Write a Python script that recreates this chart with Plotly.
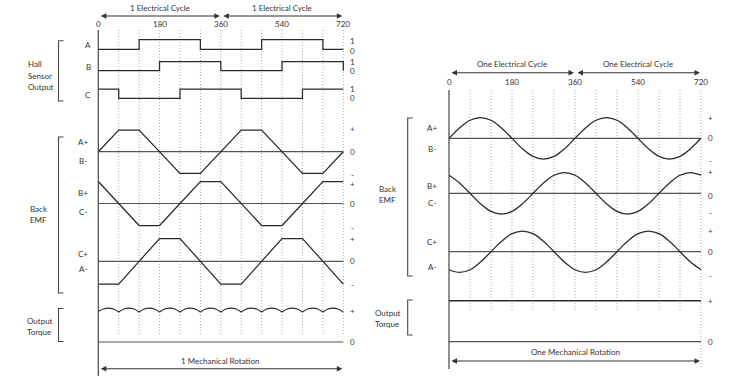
import plotly.graph_objects as go

W, H = 735, 392

# ---------------- data ----------------
deg_ticks = [0, 180, 360, 540, 720]
grid_deg = [60, 120, 180, 240, 300, 360, 420, 480, 540, 600, 660, 720]

step_x = [0, 60, 120, 180, 240, 300, 360, 420, 480, 540, 600, 660, 720]
hall_A = [0, 0, 1, 1, 1, 0, 0, 0, 1, 1, 1, 0, 0]
hall_B = [0, 0, 0, 1, 1, 1, 0, 0, 0, 1, 1, 1, 0]
hall_C = [1, 0, 0, 0, 1, 1, 1, 0, 0, 0, 1, 1, 1]

trap_x = [0, 60, 120, 180, 240, 300, 360, 420, 480, 540, 600, 660, 720]
emf_trap_A = [0, 1, 1, 0, -1, -1, 0, 1, 1, 0, -1, -1, 0]
emf_trap_B = [1, 0, -1, -1, 0, 1, 1, 0, -1, -1, 0, 1, 1]
emf_trap_C = [-1, -1, 0, 1, 1, 0, -1, -1, 0, 1, 1, 0, -1]

torque_x = [0, 15, 30, 45, 60, 75, 90, 105, 120, 135, 150, 165, 180, 195, 210, 225,
            240, 255, 270, 285, 300, 315, 330, 345, 360, 375, 390, 405, 420, 435, 450,
            465, 480, 495, 510, 525, 540, 555, 570, 585, 600, 615, 630, 645, 660, 675,
            690, 705, 720]
torque_ripple = [0.9, 0.97, 1.0, 0.97, 0.88, 0.97, 1.0, 0.97, 0.88, 0.97, 1.0, 0.97,
                 0.88, 0.97, 1.0, 0.97, 0.88, 0.97, 1.0, 0.97, 0.88, 0.97, 1.0, 0.97,
                 0.88, 0.97, 1.0, 0.97, 0.88, 0.97, 1.0, 0.97, 0.88, 0.97, 1.0, 0.97,
                 0.88, 0.97, 1.0, 0.97, 0.88, 0.97, 1.0, 0.97, 0.88, 0.97, 1.0, 0.97, 0.88]
cusp_every = 4

sine_x = [0, 30, 60, 90, 120, 150, 180, 210, 240, 270, 300, 330, 360, 390, 420, 450,
          480, 510, 540, 570, 600, 630, 660, 690, 720]
emf_sine_A = [0, 0.5, 0.87, 1, 0.87, 0.5, 0, -0.5, -0.87, -1, -0.87, -0.5, 0,
              0.5, 0.87, 1, 0.87, 0.5, 0, -0.5, -0.87, -1, -0.87, -0.5, 0]
emf_sine_B = [0.87, 0.5, 0, -0.5, -0.87, -1, -0.87, -0.5, 0, 0.5, 0.87, 1, 0.87,
              0.5, 0, -0.5, -0.87, -1, -0.87, -0.5, 0, 0.5, 0.87, 1, 0.87]
emf_sine_C = [-0.87, -1, -0.87, -0.5, 0, 0.5, 0.87, 1, 0.87, 0.5, 0, -0.5, -0.87,
              -1, -0.87, -0.5, 0, 0.5, 0.87, 1, 0.87, 0.5, 0, -0.5, -0.87]

flat_x = [0, 720]
torque_flat = [1, 1]
zero_line = [0, 0]

# ---------------- layout helpers ----------------
FONT = "Lato"
FS = 8
INK = "#2a2a2a"
GRID = "#a8a8a8"


def lin_range(v0, p0, v1, p1, total):
    s = (v1 - v0) / (p1 - p0)
    return v0 + s * (0 - p0), v0 + s * (total - p0)


def xrange_(v0, p0, v1, p1):
    a, b = lin_range(v0, p0, v1, p1, W)
    return [a, b]


def yrange_(v0, p0, v1, p1):
    top, bottom = lin_range(v0, p0, v1, p1, H)
    return [bottom, top]


# panel x mappings (degrees -> pixel)
XL = (0, 98.3, 720, 343.3)
XR = (0, 449.0, 720, 701.0)

# rows: (zero pixel, +1 pixel)
rows = {
    "L_hA": ("x", (0, 49.3, 1, 39.7)),
    "L_hB": ("x", (0, 70.7, 1, 61.5)),
    "L_hC": ("x", (0, 98.3, 1, 89.0)),
    "L_eA": ("x", (0, 151.7, 1, 130.0)),
    "L_eB": ("x", (0, 203.5, 1, 181.5)),
    "L_eC": ("x", (0, 261.3, 1, 238.5)),
    "L_tq": ("x", (0, 342.0, 1, 308.0)),
    "R_eA": ("x2", (0, 138.3, 1, 117.5)),
    "R_eB": ("x2", (0, 193.3, 1, 172.5)),
    "R_eC": ("x2", (0, 251.7, 1, 231.0)),
    "R_tq": ("x2", (0, 341.7, 1, 300.7)),
}

fig = go.Figure()
layout = dict(
    width=W, height=H, margin=dict(l=0, r=0, t=0, b=0, pad=0),
    paper_bgcolor="white", plot_bgcolor="white", showlegend=False,
    xaxis=dict(range=xrange_(*XL), visible=False, domain=[0, 1]),
    xaxis2=dict(range=xrange_(*XR), visible=False, domain=[0, 1], overlaying="x"),
    yaxis=dict(range=[H, 0], visible=False, domain=[0, 1]),
)
yref_of = {}
for i, (name, (xa, geom)) in enumerate(rows.items()):
    n = i + 2
    layout[f"yaxis{n}"] = dict(range=yrange_(*geom), visible=False, domain=[0, 1],
                               overlaying="y")
    yref_of[name] = f"y{n}"
fig.update_layout(**layout)


def add_line(x, y, row, color=INK, width=1.25, shape="linear"):
    xa = rows[row][0]
    fig.add_trace(go.Scatter(x=x, y=y, mode="lines", xaxis=xa, yaxis=yref_of[row],
                             line=dict(color=color, width=width, shape=shape),
                             hoverinfo="skip", connectgaps=False))


# zero lines
for r in ["L_eA", "L_eB", "L_eC", "L_tq", "R_eA", "R_eB", "R_eC", "R_tq"]:
    add_line(flat_x, zero_line, r, color="#555555", width=1.2)

# hall sensors
add_line(step_x, hall_A, "L_hA", shape="hv")
add_line(step_x, hall_B, "L_hB", shape="hv")
add_line(step_x, hall_C, "L_hC", shape="hv")

# trapezoidal back EMF
add_line(trap_x, emf_trap_A, "L_eA")
add_line(trap_x, emf_trap_B, "L_eB")
add_line(trap_x, emf_trap_C, "L_eC")

# torque ripple: separate arcs between commutation cusps
tx, ty = [], []
for k in range(0, len(torque_x) - 1, cusp_every):
    tx += torque_x[k:k + cusp_every + 1] + [None]
    ty += torque_ripple[k:k + cusp_every + 1] + [None]
add_line(tx, ty, "L_tq", shape="spline")

# sinusoidal back EMF
add_line(sine_x, emf_sine_A, "R_eA", shape="spline")
add_line(sine_x, emf_sine_B, "R_eB", shape="spline")
add_line(sine_x, emf_sine_C, "R_eC", shape="spline")
add_line(flat_x, torque_flat, "R_tq", width=1.4)

# ---------------- decorations ----------------
DOT = "1px,2px"
shapes = []
for d in grid_deg:
    shapes.append(dict(type="line", xref="x", yref="y", x0=d, x1=d, y0=30, y1=335,
                       line=dict(color=GRID, width=1, dash=DOT), layer="below"))
    shapes.append(dict(type="line", xref="x2", yref="y", x0=d, x1=d, y0=90,
                       y1=369 if d == 720 else 310,
                       line=dict(color=GRID, width=1, dash=DOT), layer="below"))
# vertical axes
shapes.append(dict(type="line", xref="x", yref="y", x0=0, x1=0, y0=30, y1=376,
                   line=dict(color="#444", width=1.2)))
shapes.append(dict(type="line", xref="x2", yref="y", x0=0, x1=0, y0=90, y1=369,
                   line=dict(color="#444", width=1.2)))


def bracket(xpx, y0, y1, tick=5):
    x = xpx / W
    t = (xpx + tick) / W
    return dict(type="path", xref="paper", yref="y",
                path=f"M {t},{y0} L {x},{y0} L {x},{y1} L {t},{y1}",
                line=dict(color="#444", width=1.1))


shapes += [bracket(58.5, 40.7, 101), bracket(58.5, 137, 293), bracket(58.5, 308.5, 341.5),
           bracket(407.7, 118, 276), bracket(407.7, 300, 335)]
fig.update_layout(shapes=shapes)

ann = []


def text(t, x, y, xref="paper", size=FS, xanchor="center", box_h=None):
    xx = x / W if xref == "paper" else x
    a = dict(text=t, x=xx, y=y, xref=xref, yref="y", showarrow=False,
             xanchor=xanchor, yanchor="middle", valign="middle",
             font=dict(family=FONT, size=size, color="#333"))
    if box_h:
        a["height"] = box_h
    ann.append(a)


def arrow(xref, x0, x1, ypx):
    ann.append(dict(text="", x=x1, y=ypx, ax=x0, ay=ypx, xref=xref, yref="y",
                    axref=xref, ayref="y", showarrow=True, arrowhead=2,
                    arrowside="end+start", arrowsize=1, arrowwidth=1.1,
                    arrowcolor="#333", standoff=1, startstandoff=1))


# top: left panel
for d in deg_ticks:
    text(str(d), d, 24, xref="x")
text("1 Electrical Cycle", 180, 7.5, xref="x")
text("1 Electrical Cycle", 540, 7.5, xref="x")
arrow("x", 0, 360, 16)
arrow("x", 360, 720, 16)
# top: right panel
for d in deg_ticks:
    text(str(d), d, 81.7, xref="x2")
text("One Electrical Cycle", 180, 64, xref="x2")
text("One Electrical Cycle", 540, 64, xref="x2")
arrow("x2", 0, 360, 72.7)
arrow("x2", 360, 720, 72.7)
# bottom
text("1 Mechanical Rotation", 360, 360.7, xref="x")
arrow("x", 0, 720, 368.7)
text("One Mechanical Rotation", 360, 351.7, xref="x2")
arrow("x2", 0, 720, 361)

# row labels left
for t, y in [("A", 45), ("B", 67), ("C", 94.5)]:
    text(t, 88.3, y)
for t, y in [("A+", 142.3), ("B-", 161), ("B+", 193.3), ("C-", 211.7), ("C+", 254), ("A-", 269)]:
    text(t, 83, y)
for t, y in [("1", 41.3), ("0", 50.7), ("1", 61.7), ("0", 70.7), ("1", 89), ("0", 98.3),
             ("+", 129.3), ("0", 152), ("-", 175), ("+", 184.3), ("0", 203.7), ("-", 228.3),
             ("+", 239.3), ("0", 261.3), ("-", 285.3), ("+", 310.7), ("0", 342.3)]:
    text(t, 352.5, y, box_h=8)
# row labels right
for t, y in [("A+", 127.7), ("B-", 149), ("B+", 186), ("C-", 202.7), ("C+", 241.7), ("A-", 266.7)]:
    text(t, 431.7, y)
for t, y in [("+", 118.3), ("0", 137.5), ("-", 161), ("+", 171.7), ("0", 195.7), ("-", 213.3),
             ("+", 231), ("0", 252.3), ("-", 275.7), ("+", 300.7), ("0", 342)]:
    text(t, 710.7, y, box_h=8)
# group labels
for t, y in [("Hall", 64), ("Sensor", 76), ("Output", 87.3)]:
    text(t, 25.5, y, xanchor="left")
for t, y in [("Back", 209), ("EMF", 219.5)]:
    text(t, 28, y, xanchor="left")
for t, y in [("Output", 320.7), ("Torque", 332.3)]:
    text(t, 25, y, xanchor="left")
for t, y in [("Back", 189.3), ("EMF", 200)]:
    text(t, 377.3, y, xanchor="left")
for t, y in [("Output", 313.3), ("Torque", 323.8)]:
    text(t, 372.7, y, xanchor="left")

fig.update_layout(annotations=ann)
fig.write_html("out.html", config={"displayModeBar": False},
               post_script="document.body.style.margin='0';")
